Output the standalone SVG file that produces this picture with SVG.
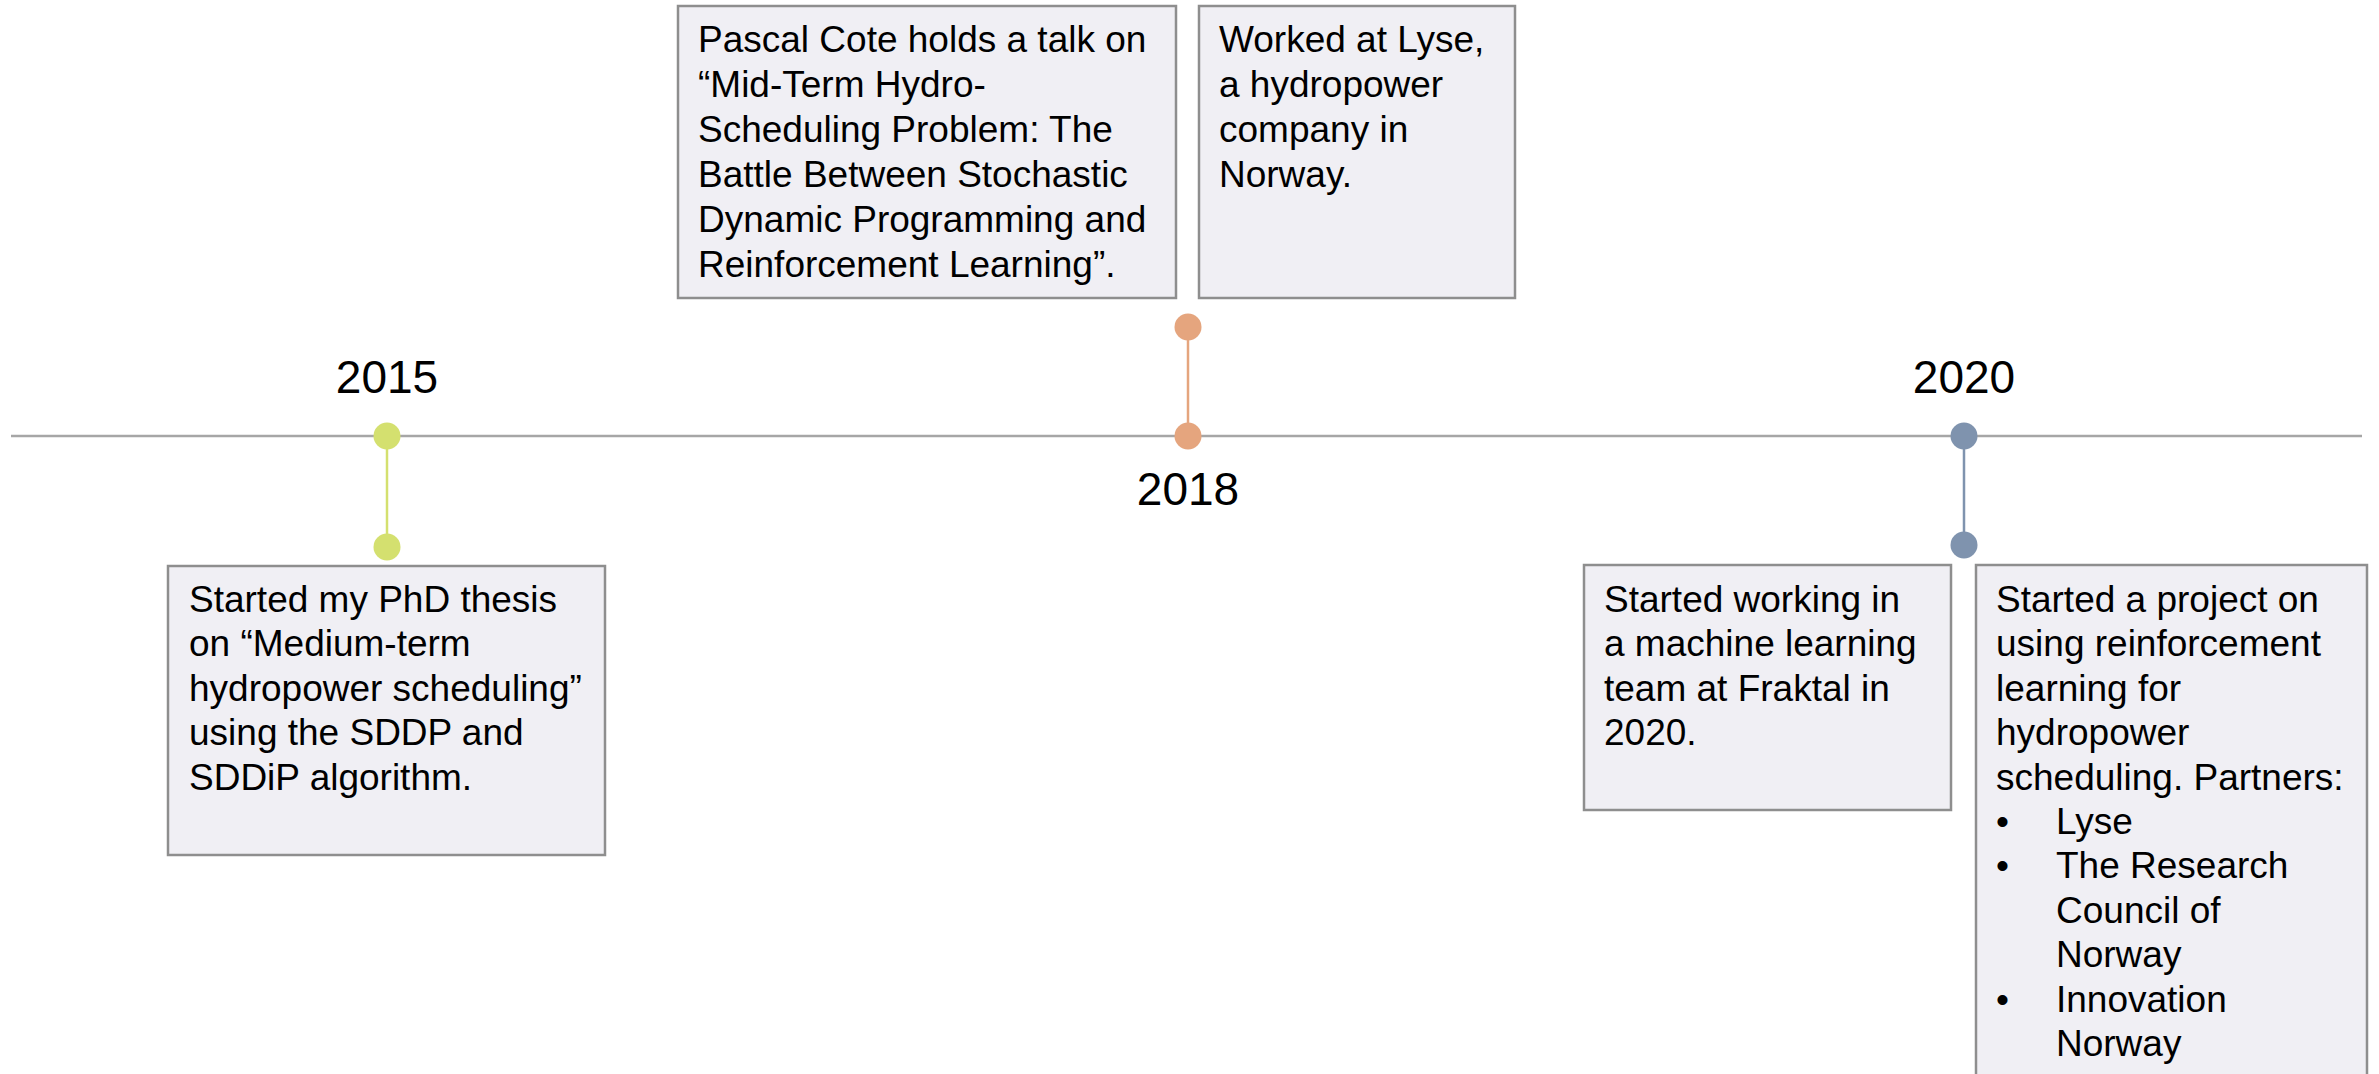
<svg xmlns="http://www.w3.org/2000/svg" width="2379" height="1074" viewBox="0 0 2379 1074">
<style>
.box{fill:#f0eff4;stroke:#8e8e8e;stroke-width:2.5}
.t{font-family:"Liberation Sans",Arial,sans-serif;font-size:37px;fill:#000}
.yr{font-family:"Liberation Sans",Arial,sans-serif;font-size:46px;fill:#000;text-anchor:middle}
.g{fill:#d4e06f}.gs{stroke:#d4e06f;stroke-width:2.5}
.o{fill:#e5a57e}.os{stroke:#e5a57e;stroke-width:2.5}
.b{fill:#7f93ae}.bs{stroke:#7f93ae;stroke-width:2.5}
</style>
<rect width="2379" height="1074" fill="#fff"/>
<g id="connectors">
<line x1="11" y1="436" x2="2362" y2="436" stroke="#a6a6a6" stroke-width="2.5"/>
<line class="gs" x1="387" y1="436" x2="387" y2="547"/>
<line class="os" x1="1188" y1="327" x2="1188" y2="436"/>
<line class="bs" x1="1964" y1="436" x2="1964" y2="545"/>
</g>
<g id="m2015">
<circle class="g" cx="387" cy="436" r="13.5"/>
<circle class="g" cx="387" cy="547" r="13.5"/>
<text class="yr" x="387" y="393">2015</text>
</g>
<g id="m2018">
<circle class="o" cx="1188" cy="327" r="13.5"/>
<circle class="o" cx="1188" cy="436" r="13.5"/>
<text class="yr" x="1188" y="505">2018</text>
</g>
<g id="m2020">
<circle class="b" cx="1964" cy="436" r="13.5"/>
<circle class="b" cx="1964" cy="545" r="13.5"/>
<text class="yr" x="1964" y="393">2020</text>
</g>
<g id="box-phd">
<rect class="box" x="168" y="566" width="437" height="289"/>
<text class="t" x="189" y="612">Started my PhD thesis<tspan x="189" dy="44.4">on “Medium-term</tspan><tspan x="189" dy="44.4">hydropower scheduling”</tspan><tspan x="189" dy="44.4">using the SDDP and</tspan><tspan x="189" dy="44.4">SDDiP algorithm.</tspan></text>
</g>
<g id="box-talk">
<rect class="box" x="678" y="6" width="498" height="292"/>
<text class="t" x="698" y="52">Pascal Cote holds a talk on<tspan x="698" dy="45">“Mid-Term Hydro-</tspan><tspan x="698" dy="45">Scheduling Problem: The</tspan><tspan x="698" dy="45">Battle Between Stochastic</tspan><tspan x="698" dy="45">Dynamic Programming and</tspan><tspan x="698" dy="45">Reinforcement Learning”.</tspan></text>
</g>
<g id="box-lyse">
<rect class="box" x="1199" y="6" width="316" height="292"/>
<text class="t" x="1219" y="52">Worked at Lyse,<tspan x="1219" dy="45">a hydropower</tspan><tspan x="1219" dy="45">company in</tspan><tspan x="1219" dy="45">Norway.</tspan></text>
</g>
<g id="box-fraktal">
<rect class="box" x="1584" y="565" width="367" height="245"/>
<text class="t" x="1604" y="612">Started working in<tspan x="1604" dy="44.4">a machine learning</tspan><tspan x="1604" dy="44.4">team at Fraktal in</tspan><tspan x="1604" dy="44.4">2020.</tspan></text>
</g>
<g id="box-project">
<rect class="box" x="1976" y="565" width="391" height="512"/>
<text class="t" x="1996" y="612">Started a project on<tspan x="1996" dy="44.4">using reinforcement</tspan><tspan x="1996" dy="44.4">learning for</tspan><tspan x="1996" dy="44.4">hydropower</tspan><tspan x="1996" dy="44.4">scheduling. Partners:</tspan></text>
<text class="t" x="1996" y="834">•<tspan x="1996" dy="44.4">•</tspan><tspan x="1996" dy="133.2">•</tspan></text>
<text class="t" x="2056" y="834">Lyse<tspan x="2056" dy="44.4">The Research</tspan><tspan x="2056" dy="44.4">Council of</tspan><tspan x="2056" dy="44.4">Norway</tspan><tspan x="2056" dy="44.4">Innovation</tspan><tspan x="2056" dy="44.4">Norway</tspan></text>
</g>
</svg>
